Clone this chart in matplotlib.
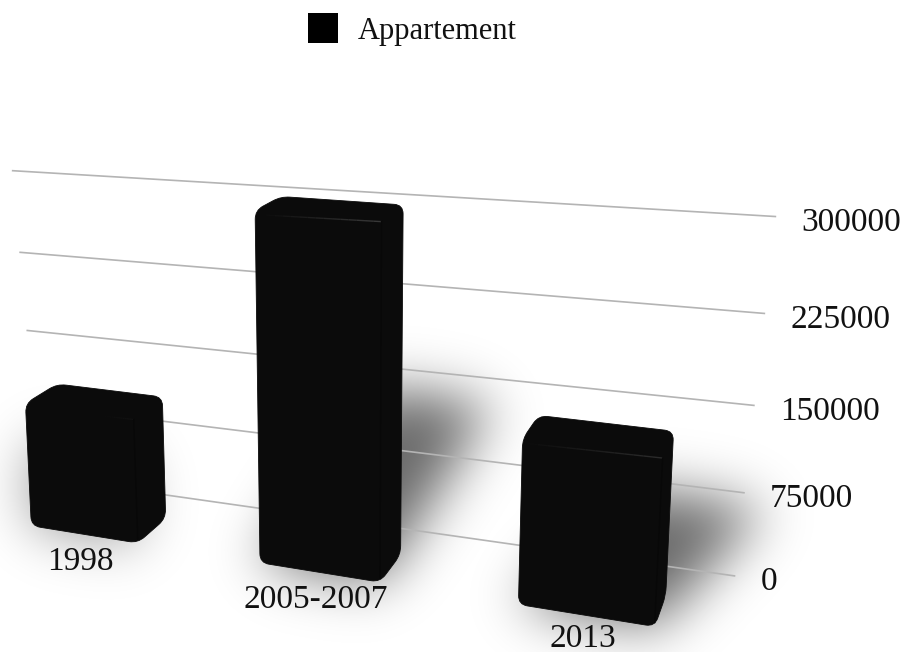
import numpy as np
import matplotlib
matplotlib.use('Agg')
import matplotlib.pyplot as plt
from matplotlib.patches import PathPatch, Rectangle
from matplotlib.path import Path

categories = ['1998', '2005-2007', '2013']
values = [108000, 285000, 130000]
grid_values = [0, 75000, 150000, 225000, 300000]
series_name = 'Appartement'

W, H = 907, 652
half_bar = 0.24

# perspective views: (slot, value/1e5, 1) for the back wall, (slot, value/1e5, depth, 1) for the bars
wall_view = np.array([
    [-0.17245339081075522, 0.008675591096579949, -0.12267578819600147],
    [-0.002367580773534439, 0.0956142177087794, -0.4283092276580547],
    [0.047043567099662606, 0.024442495611172177, -0.8716238877787278]])
bar_view = np.array([
    [-0.18578803134549327, 0.005121654628155919, -0.028781885217080062, -0.07183342755069672],
    [-0.003953488133279948, 0.10435250539094777, 0.004752383300472264, -0.458081299040515],
    [0.050007683550394456, 0.014540548657055823, -0.030905482382106983, -0.8573416214638375]])


def project(x, value, depth):
    p = bar_view @ np.array([x, value/1e5, depth, 1.0])
    return 1000*p[0]/p[2], 1000*p[1]/p[2]


def wall(x, value):
    p = wall_view @ np.array([x, value/1e5, 1.0])
    return 1000*p[0]/p[2], 1000*p[1]/p[2]


def rounded_path(points, radius):
    pts = np.array(points, dtype=float)
    n = len(pts)
    verts, codes = [], []
    for k in range(n):
        cur = pts[k]
        to_prev = pts[k-1]-cur
        to_next = pts[(k+1) % n]-cur
        start = cur+to_prev/np.linalg.norm(to_prev)*min(radius, np.linalg.norm(to_prev)/2)
        end = cur+to_next/np.linalg.norm(to_next)*min(radius, np.linalg.norm(to_next)/2)
        verts.append(start)
        codes.append(Path.MOVETO if k == 0 else Path.LINETO)
        verts += [cur, end]
        codes += [Path.CURVE3, Path.CURVE3]
    verts.append(verts[0])
    codes.append(Path.CLOSEPOLY)
    return Path(verts, codes)


def blur(mask, sigma):
    # pad so the fft does not wrap the shadow round the edges
    pad = int(4*sigma)
    big = np.pad(mask, pad)
    fy = np.fft.fftfreq(big.shape[0])[:, None]
    fx = np.fft.rfftfreq(big.shape[1])[None, :]
    gain = np.exp(-2*(np.pi*sigma)**2*(fx**2+fy**2))
    out = np.fft.irfft2(np.fft.rfft2(big)*gain, s=big.shape)
    return out[pad:-pad, pad:-pad]


fig = plt.figure(figsize=(W/100, H/100), dpi=100)
ax = fig.add_axes([0, 0, 1, 1])
ax.set_xlim(0, W)
ax.set_ylim(H, 0)
ax.axis('off')

# floor shadows, leaning away from the middle of the chart
yy, xx = np.mgrid[0:H, 0:W]
grid_pts = np.column_stack((xx.ravel()+.5, yy.ravel()+.5))
shadow = np.zeros((H, W))
shadow_lean = [(-30, .50, .42), (92, .42, .60), (100, .52, .60)]
for i, value in enumerate(values):
    lean, rise, strength = shadow_lean[i]
    bl = project(i-half_bar, 0, 0)
    br = project(i+half_bar, 0, 0)
    tr = project(i+half_bar, 0, 1)
    tl = project(i-half_bar, 0, 1)
    up = abs(project(i, value, 0)[1]-project(i, 0, 0)[1])*rise
    poly = [bl, br, (tr[0]+lean, tr[1]-up), (tl[0]+lean, tl[1]-up)]
    mask = Path(poly).contains_points(grid_pts).reshape(H, W).astype(float)
    shadow = np.maximum(shadow, blur(mask, 27)*strength)
rgba = np.zeros((H, W, 4))
rgba[..., 3] = np.clip(shadow, 0, 1)
ax.imshow(rgba, extent=(0, W, H, 0), zorder=1, aspect='auto')

# gridlines and value labels on the back wall
for gv in grid_values:
    x0, y0 = wall(-.5, gv)
    x1, y1 = wall(2.5, gv)
    ax.plot([x0, x1], [y0, y1], color='#b4b4b4', lw=1.2, zorder=2)
    ax.text(x1+26, y1+6, str(gv), fontsize=24, family='Liberation Serif', ha='left', va='center', color='#111111')

# bars
rim_glow = [.07, .22, .17]
rim_start = [.7, .05, 0]
label_drop = [27, 27, 23]
for i, value in enumerate(values):
    left, right = i-half_bar, i+half_bar
    outline = [project(left, value, 0), project(left, value, 1), project(right, value, 1),
               project(right, 0, 1), project(right, 0, 0), project(left, 0, 0)]
    ax.add_patch(PathPatch(rounded_path(outline, 9), facecolor='#0b0b0b', edgecolor='#0b0b0b', lw=.6, zorder=3))
    # lighter rim where the front face meets the top, brightest at its right end
    a = np.array(project(left+.02, value, 0))+(0, 4)
    b = np.array(project(right, value, 0))+(0, 2)
    c = project(right, 0, 0)
    steps = np.linspace(rim_start[i], 1, 15)
    for t0, t1 in zip(steps[:-1], steps[1:]):
        p0, p1 = a+(b-a)*t0, a+(b-a)*t1
        grey = .043+(rim_glow[i]-.043)*(t1-rim_start[i])/(1-rim_start[i])
        ax.plot([p0[0], p1[0]], [p0[1], p1[1]], color=(grey, grey, grey), lw=1, zorder=4, solid_capstyle='butt')
    ax.plot([b[0], c[0]], [b[1], c[1]-4], color='#080808', lw=1, zorder=4)
    cx, cy = project(i, 0, 0)
    ax.text(cx-3, cy+label_drop[i], categories[i], fontsize=24, family='Liberation Serif', ha='center', va='center', color='#111111')

# legend
ax.add_patch(Rectangle((308, 13), 30, 30, facecolor='black', edgecolor='none', zorder=5))
ax.text(358, 31, series_name, fontsize=22, family='Liberation Serif', ha='left', va='center', color='#111111')

fig.savefig('out.png', dpi=100)
